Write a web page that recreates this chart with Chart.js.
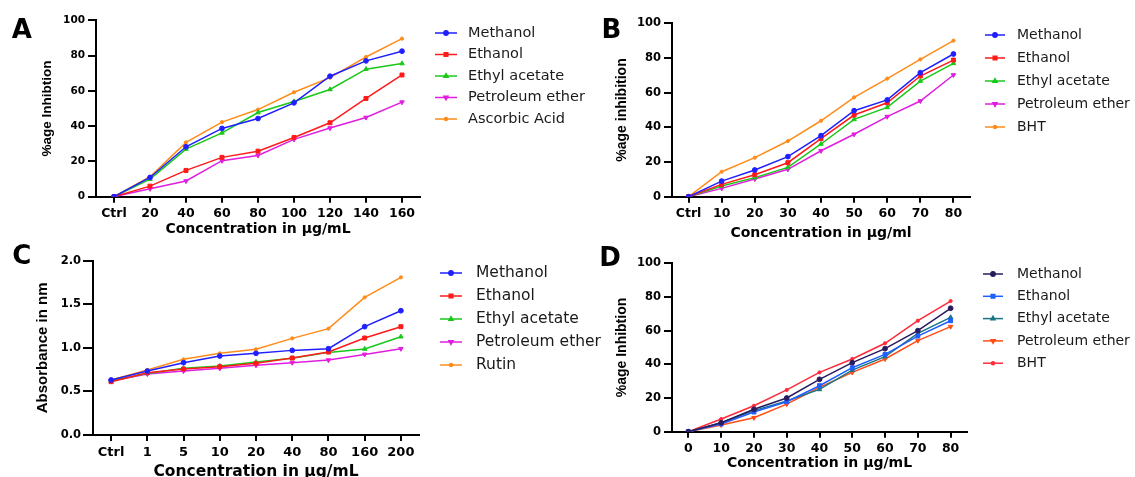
<!DOCTYPE html>
<html>
<head>
<meta charset="utf-8">
<script src="https://cdn.jsdelivr.net/npm/chart.js@4.4.1/dist/chart.umd.min.js"></script>
<style>
html,body{margin:0;padding:0;background:#fff;width:1135px;height:477px;overflow:hidden;}
canvas{position:absolute;left:0;top:0;}
</style>
</head>
<body>
<canvas id="cA" width="1135" height="477"></canvas>
<canvas id="cB" width="1135" height="477"></canvas>
<canvas id="cC" width="1135" height="477"></canvas>
<canvas id="cD" width="1135" height="477"></canvas>
<script>
// ---------- DATA ----------
const extractNames = ['Methanol', 'Ethanol', 'Ethyl acetate', 'Petroleum ether'];

// Panel A
const categoriesA = ['Ctrl', '20', '40', '60', '80', '100', '120', '140', '160'];
const methanolA = [0, 10.9, 28.3, 38.7, 44.3, 53.2, 68.3, 77.0, 82.5];
const ethanolA  = [0, 6.0, 14.9, 22.3, 25.8, 33.6, 41.9, 55.7, 69.0];
const ethylA    = [0, 10.0, 27.0, 36.2, 47.7, 54.0, 60.8, 72.3, 75.5];
const petroA    = [0, 4.5, 8.9, 20.4, 23.4, 32.5, 38.9, 44.9, 53.6];
const ascorbicA = [0, 11.3, 30.8, 42.3, 49.4, 59.2, 67.5, 79.2, 89.6];

// Panel B
const categoriesB = ['Ctrl', '10', '20', '30', '40', '50', '60', '70', '80'];
const methanolB = [0, 9.0, 15.4, 23.1, 35.2, 49.6, 55.8, 71.5, 82.3];
const ethanolB  = [0, 7.1, 12.7, 19.6, 33.5, 47.1, 54.2, 69.6, 78.8];
const ethylB    = [0, 6.2, 11.0, 16.9, 30.4, 44.6, 51.5, 66.7, 76.9];
const petroB    = [0, 4.8, 10.2, 15.8, 26.5, 36.0, 46.2, 55.2, 70.2];
const bhtB      = [0, 14.4, 22.5, 32.1, 43.8, 57.3, 68.1, 79.2, 90.0];

// Panel C
const categoriesC = ['Ctrl', '1', '5', '10', '20', '40', '80', '160', '200'];
const methanolC = [0.631, 0.734, 0.830, 0.906, 0.937, 0.971, 0.990, 1.243, 1.426];
const ethanolC  = [0.612, 0.715, 0.757, 0.784, 0.822, 0.883, 0.952, 1.113, 1.243];
const ethylC    = [0.620, 0.707, 0.765, 0.792, 0.837, 0.880, 0.948, 0.987, 1.128];
const petroC    = [0.620, 0.700, 0.734, 0.765, 0.800, 0.830, 0.860, 0.925, 0.990];
const rutinC    = [0.631, 0.746, 0.868, 0.937, 0.983, 1.109, 1.220, 1.579, 1.809];

// Panel D
const categoriesD = ['0', '10', '20', '30', '40', '50', '60', '70', '80'];
const methanolD = [0, 5.3, 13.3, 20.0, 31.1, 41.0, 49.3, 60.0, 73.3];
const ethanolD  = [0, 4.6, 11.7, 17.8, 27.3, 38.0, 45.9, 56.8, 65.9];
const ethylD    = [0, 5.3, 12.5, 18.2, 25.1, 36.6, 44.6, 58.4, 67.9];
const petroD    = [0, 4.0, 8.3, 16.4, 26.3, 35.2, 43.2, 54.1, 62.4];
const bhtD      = [0, 7.5, 15.4, 24.8, 35.2, 43.2, 52.5, 65.9, 77.6];

// Tick labels
const yTicksPercent = [0, 20, 40, 60, 80, 100];
const yTickLabelsPercent = ['0', '20', '40', '60', '80', '100'];
const yTicksAbs = [0, 0.5, 1.0, 1.5, 2.0];
const yTickLabelsAbs = ['0.0', '0.5', '1.0', '1.5', '2.0'];

// ---------- STYLES ----------
const colorsABC = ['#1f1fff', '#ff1a1a', '#1ac81a', '#e01ee0', '#ff8c1a'];
const colorsD = ['#2a1b5e', '#1f5fff', '#1a7585', '#ff4d14', '#ff2a3a'];
const markers = [
  {style: 'circle', r: 2.4, rot: 0},
  {style: 'rect', r: 2.8, rot: 0},
  {style: 'triangle', r: 2.6, rot: 0},
  {style: 'triangle', r: 2.6, rot: 180},
  {style: 'circle', r: 1.6, rot: 0}
];

const legendPlugin = {
  id: 'panelDecor',
  afterDraw(chart, args, o) {
    const ctx = chart.ctx;
    ctx.save();
    // panel letter
    ctx.fillStyle = '#000';
    ctx.font = 'bold 26px "DejaVu Sans"';
    ctx.textAlign = 'center';
    ctx.textBaseline = 'middle';
    ctx.fillText(o.letter, o.letterX, o.letterY);
    // legend
    chart.data.datasets.forEach((ds, i) => {
      const y = o.y0 + i * o.dy;
      ctx.strokeStyle = ds.borderColor;
      ctx.fillStyle = ds.borderColor;
      ctx.lineWidth = 1.5;
      ctx.beginPath();
      ctx.moveTo(o.x0, y);
      ctx.lineTo(o.x1, y);
      ctx.stroke();
      Chart.helpers.drawPoint(ctx, {pointStyle: ds.pointStyle, radius: ds.pointRadius * 0.9, rotation: ds.pointRotation, borderWidth: 1}, (o.x0 + o.x1) / 2, y);
      ctx.fillStyle = '#1a1a1a';
      ctx.font = o.font;
      ctx.textAlign = 'left';
      ctx.textBaseline = 'middle';
      ctx.fillText(ds.label, o.tx, y);
    });
    ctx.restore();
  }
};

function makeDatasets(names, arrays, colors) {
  return names.map((n, i) => ({
    label: n,
    data: arrays[i],
    borderColor: colors[i],
    backgroundColor: colors[i],
    borderWidth: 1.5,
    pointStyle: markers[i].style,
    pointRadius: markers[i].r,
    pointRotation: markers[i].rot,
    pointBorderWidth: 1,
    tension: 0
  }));
}

function makeChart(id, cats, datasets, yTicks, yLabels, yMax, yTitle, xTitle, L) {
  const Y_W = 60, X_H = 40;
  const yTitleLH = L.yTitleSize * 1.2;
  const xTitleLH = L.xTitleSize * 1.2;
  const xScaleBottom = L.B + X_H;
  const scaleLeft = L.L - Y_W;
  new Chart(document.getElementById(id), {
    type: 'line',
    data: {labels: cats, datasets: datasets},
    plugins: [legendPlugin],
    options: {
      responsive: false,
      animation: false,
      events: [],
      layout: {padding: {left: scaleLeft, top: L.T, right: 1135 - L.R, bottom: 477 - xScaleBottom}},
      plugins: {
        legend: {display: false},
        tooltip: {enabled: false},
        panelDecor: L.legend
      },
      scales: {
        x: {
          type: 'category',
          offset: true,
          afterFit(s) { s.height = X_H; },
          grid: {display: true, drawOnChartArea: false, drawTicks: true, tickLength: 6, color: '#000', lineWidth: 2},
          border: {display: true, color: '#000', width: 2},
          ticks: {color: '#000', font: {family: 'DejaVu Sans', weight: 'bold', size: L.xTickSize}, padding: L.xTickPad, maxRotation: 0, autoSkip: false},
          title: {display: true, text: xTitle, color: '#000',
                  font: {family: 'DejaVu Sans', weight: 'bold', size: L.xTitleSize, lineHeight: 1.2},
                  padding: {top: 0, bottom: xScaleBottom - L.xTitleY - xTitleLH / 2}}
        },
        y: {
          min: 0, max: yMax,
          afterFit(s) { s.width = Y_W; },
          afterBuildTicks(s) { s.ticks = yTicks.map(v => ({value: v})); },
          grid: {display: true, drawOnChartArea: false, drawTicks: true, tickLength: L.yTickLen, color: '#000', lineWidth: 2},
          border: {display: true, color: '#000', width: 2},
          ticks: {color: '#000', font: {family: 'DejaVu Sans', weight: 'bold', size: L.yTickSize}, padding: L.yTickPad,
                  callback: (v, i) => yLabels[i]},
          title: {display: true, text: yTitle, color: '#000',
                  font: {family: 'Liberation Sans', weight: 'bold', size: L.yTitleSize, lineHeight: 1.2},
                  padding: {top: L.yTitleX - scaleLeft - yTitleLH / 2, bottom: 0}}
        }
      }
    }
  });
}

makeChart('cA', categoriesA,
  makeDatasets(extractNames.concat(['Ascorbic Acid']), [methanolA, ethanolA, ethylA, petroA, ascorbicA], colorsABC),
  yTicksPercent, yTickLabelsPercent, 100, '%age Inhibtion', 'Concentration in µg/mL',
  {L: 96, T: 20.3, R: 420, B: 196.7, yTitleX: 47, yTitleSize: 13.5, xTitleY: 229, xTitleSize: 14, xTickSize: 12.5, xTickPad: 4, yTickSize: 10.5, yTickLen: 8, yTickPad: 3,
   legend: {letter: 'A', letterX: 21.7, letterY: 31.5, x0: 435, x1: 457, tx: 468, y0: 33, dy: 21.5, font: '14.5px "DejaVu Sans"'}});

makeChart('cB', categoriesB,
  makeDatasets(extractNames.concat(['BHT']), [methanolB, ethanolB, ethylB, petroB, bhtB], colorsABC),
  yTicksPercent, yTickLabelsPercent, 100, '%age inhibition', 'Concentration in µg/ml',
  {L: 672, T: 23.3, R: 970, B: 196.7, yTitleX: 621.7, yTitleSize: 14, xTitleY: 233, xTitleSize: 14, xTickSize: 12.5, xTickPad: 4, yTickSize: 11.5, yTickLen: 8, yTickPad: 3,
   legend: {letter: 'B', letterX: 611.3, letterY: 31.5, x0: 985, x1: 1005, tx: 1017, y0: 35, dy: 23, font: '14px "DejaVu Sans"'}});

makeChart('cC', categoriesC,
  makeDatasets(extractNames.concat(['Rutin']), [methanolC, ethanolC, ethylC, petroC, rutinC], colorsABC),
  yTicksAbs, yTickLabelsAbs, 2.0, 'Absorbance in nm', 'Concentration in µg/mL',
  {L: 93, T: 260.7, R: 419, B: 435, yTitleX: 43, yTitleSize: 15, xTitleY: 471.5, xTitleSize: 15.5, xTickSize: 13, xTickPad: 4, yTickSize: 11.5, yTickLen: 10, yTickPad: 2,
   legend: {letter: 'C', letterX: 21.7, letterY: 257.5, x0: 440, x1: 462, tx: 476, y0: 273, dy: 23, font: '15.5px "DejaVu Sans"'}});

makeChart('cD', categoriesD,
  makeDatasets(extractNames.concat(['BHT']), [methanolD, ethanolD, ethylD, petroD, bhtD], colorsD),
  yTicksPercent, yTickLabelsPercent, 100, '%age Inhibtion', 'Concentration in µg/mL',
  {L: 672, T: 263.3, R: 967, B: 431.7, yTitleX: 621.7, yTitleSize: 14, xTitleY: 463.3, xTitleSize: 14, xTickSize: 12.5, xTickPad: 4, yTickSize: 11.5, yTickLen: 8, yTickPad: 3,
   legend: {letter: 'D', letterX: 610, letterY: 259.5, x0: 983, x1: 1003, tx: 1017, y0: 274, dy: 22.3, font: '14px "DejaVu Sans"'}});
</script>
</body>
</html>
